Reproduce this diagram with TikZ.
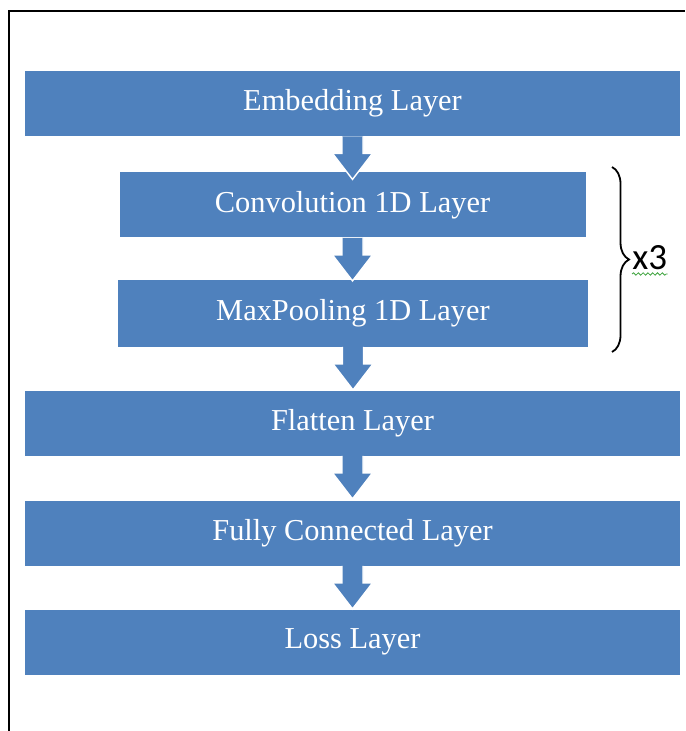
\documentclass[tikz,border=0pt]{standalone}
\usepackage{fontspec}
\setmainfont{Liberation Serif}
\newfontfamily\repfont{Carlito}
\usetikzlibrary{decorations.pathreplacing,decorations.pathmorphing,calc}
\definecolor{layerblue}{HTML}{4F81BD}
\definecolor{spellgreen}{HTML}{3FA33F}

\tikzset{
layer/.style={fill=layerblue,text=white,inner sep=0pt,font=\fontsize{15.2}{18}\selectfont},
wide/.style={minimum width=327.5pt,minimum height=32.5pt},
narrow/.style={minimum width=233pt,minimum height=32.5pt}
}

% Block arrow from one layer to the next
\newcommand{\layerarrow}[2]{%
\filldraw[layerblue,draw=white,line width=0.7pt] let \p1=(#1.south), \p2=(#2.north) in
(\x1-5.25pt,\y1)--(\x1-5.25pt,\y1-8.5pt)--(\x1-10pt,\y1-8.5pt)--(\x1,\y1-21.5pt)
--(\x1+10pt,\y1-8.5pt)--(\x1+5.25pt,\y1-8.5pt)--(\x1+5.25pt,\y1);
}

\begin{document}
\begin{tikzpicture}[x=0.5pt,y=-0.5pt]
\useasboundingbox (0,0) rectangle (685,731);

% Frame
\draw[line width=1pt] (9,731)--(9,11)--(685,11);

% Layers
\node[layer,wide] (embed) at (352.5,103.5){Embedding Layer};
\node[layer,narrow] (conv) at (352.5,205){Convolution 1D Layer};
\node[layer,narrow,minimum width=235pt,minimum height=33pt] (pool) at (353,313.5){MaxPooling 1D Layer};
\node[layer,wide] (flat) at (352.5,423){Flatten Layer};
\node[layer,wide] (dense) at (352.5,533){Fully Connected Layer};
\node[layer,wide] (loss) at (352.5,642){Loss Layer};

% Arrows
\layerarrow{embed}{conv}
\layerarrow{conv}{pool}
\layerarrow{pool}{flat}
\layerarrow{flat}{dense}
\layerarrow{dense}{loss}

% Repeat brace
\coordinate (bracetop) at (612,167);
\coordinate (bracebot) at (612,352);
\draw[line width=0.9pt,decorate,decoration={brace,amplitude=8.5pt}] (bracetop)--(bracebot);
\node[anchor=base west,inner sep=0pt,font=\repfont\fontsize{18.5}{20}\selectfont] (times) at (632,270){x3};
\draw[spellgreen,line width=0.4pt,decorate,decoration={snake,amplitude=0.6pt,segment length=2.4pt}]
($(times.base west)+(0,4)$)--($(times.base east)+(0,4)$);

\end{tikzpicture}
\end{document}
